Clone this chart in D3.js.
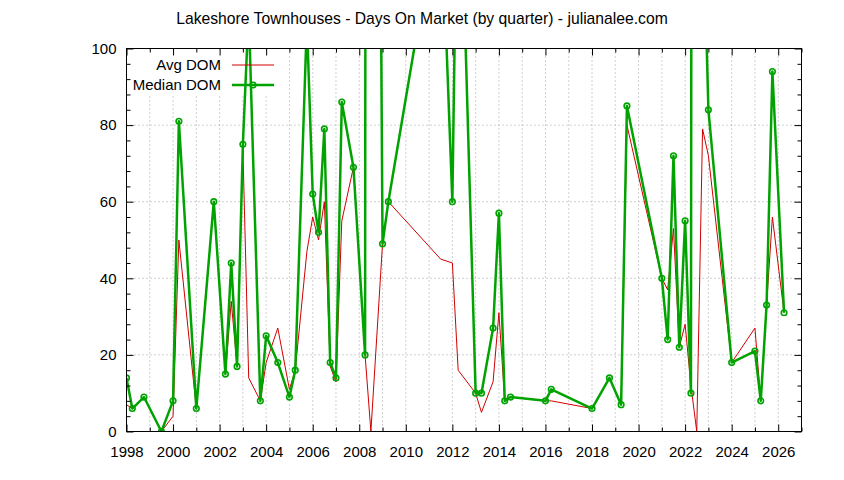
<!DOCTYPE html>
<html lang="en">
<head>
  <meta charset="UTF-8" />
  <title>Lakeshore Townhouses - Days On Market</title>
  <script src="https://d3js.org/d3.v7.min.js"></script>
  <style>
    body {
      margin: 0;
      background: #fff;
    }
    svg text {
      font-family: "Liberation Sans", Arial, sans-serif;
      font-size: 15px;
      fill: #000;
    }
    .grid line {
      stroke: #a0a0a0;
      stroke-width: 1;
      stroke-dasharray: 1, 3;
    }
  </style>
</head>
<body>
  <svg id="chart" width="844" height="480"></svg>

  <script>
    // quarter (decimal year) and days on market, null = no point in that series
    const quarters = [
      1998.0, 1998.25, 1998.75, 1999.5, 2000.0, 2000.25, 2001.0, 2001.75,
      2002.25, 2002.5, 2002.75, 2003.0, 2003.25, 2003.75, 2004.0, 2004.5,
      2005.0, 2005.25, 2005.75, 2006.0, 2006.25, 2006.5, 2006.75, 2007.0,
      2007.25, 2007.75, 2008.25, 2008.5, 2008.75, 2009.0, 2009.25, 2011.5,
      2012.0, 2012.25, 2013.0, 2013.25, 2013.75, 2014.0, 2014.25, 2014.5,
      2016.0, 2016.25, 2018.0, 2018.75, 2019.25, 2019.5, 2021.0, 2021.25,
      2021.5, 2021.75, 2022.0, 2022.25, 2022.5, 2022.75, 2023.0, 2024.0,
      2025.0, 2025.25, 2025.5, 2025.75, 2026.25
    ];
    const avgDom = [
      7, 6, 9, 0, 4, 50, 6, 60,
      15, 34, 17, 74, 14, 8, 18, 27,
      11, 16, 47, 56, 50, 60, 17, 13,
      55, 69, 20, 0, null, 49, 60, 45,
      44, 16, 10, 5, 13, 31, 8, 9,
      8, 8, 6, 14, 7, 80, 40, 37,
      53, 22, 28, 12, 0, 79, 72, 18,
      27, 8, 33, 56, 31
    ];
    const medianDom = [
      14, 6, 9, 0, 8, 81, 6, 60,
      15, 44, 17, 75, 110, 8, 25, 18,
      9, 16, 107, 62, 52, 79, 18, 14,
      86, 69, 20, 1800, 280, 49, 60, 141,
      60, 168, 10, 10, 27, 57, 8, 9,
      8, 11, 6, 14, 7, 85, 40, 24,
      72, 22, 55, 10, 1500, 141, 84, 18,
      21, 8, 33, 94, 31
    ];
    const xTickLabels = [1998, 2000, 2002, 2004, 2006, 2008, 2010, 2012, 2014, 2016, 2018, 2020, 2022, 2024, 2026];
    const yTickLabels = [0, 20, 40, 60, 80, 100];
    const titleText = "Lakeshore Townhouses - Days On Market (by quarter) - julianalee.com";

    const plotLeft = 126.5, plotRight = 801.5, plotTop = 48.5, plotBottom = 431.5;
    const red = "#d00000", green = "#00a300";

    const svg = d3.select("#chart");
    const x = d3.scaleLinear().domain([1998, 2027]).range([plotLeft, plotRight]);
    const y = d3.scaleLinear().domain([0, 100]).range([plotBottom, plotTop]);

    const avgData = quarters.map((q, i) => ({ q, v: avgDom[i] })).filter(d => d.v != null);
    const medData = quarters.map((q, i) => ({ q, v: medianDom[i] })).filter(d => d.v != null);

    const everyYear = d3.range(1998, 2028);
    const minorYears = everyYear.filter(v => v % 2 === 1);
    const minorY = d3.range(0, 101, 4).filter(v => v % 20 !== 0);

    svg.append("defs").append("clipPath").attr("id", "plot")
      .append("rect")
      .attr("x", plotLeft).attr("y", plotTop)
      .attr("width", plotRight - plotLeft).attr("height", plotBottom - plotTop);

    // dotted grid, every year and every 20 days
    const grid = svg.append("g").attr("class", "grid");
    grid.selectAll(".gx")
      .data(everyYear.filter(v => v > 1998 && v < 2027))
      .join("line")
      .attr("class", "gx")
      .attr("x1", d => x(d)).attr("x2", d => x(d))
      .attr("y1", plotTop).attr("y2", plotBottom);
    grid.selectAll(".gy")
      .data(yTickLabels.filter(v => v > 0 && v < 100))
      .join("line")
      .attr("class", "gy")
      .attr("x1", plotLeft).attr("x2", plotRight)
      .attr("y1", d => y(d)).attr("y2", d => y(d));

    // opaque key box hides the grid behind it
    svg.append("rect")
      .attr("x", plotLeft + 1).attr("y", plotTop + 1)
      .attr("width", 155).attr("height", 46)
      .attr("fill", "#fff");

    const plot = svg.append("g").attr("clip-path", "url(#plot)");
    const line = d3.line().x(d => x(d.q)).y(d => y(d.v));

    plot.append("path")
      .datum(avgData)
      .attr("d", line)
      .attr("fill", "none")
      .attr("stroke", red)
      .attr("stroke-width", 1);

    plot.append("path")
      .datum(medData)
      .attr("d", line)
      .attr("fill", "none")
      .attr("stroke", green)
      .attr("stroke-width", 2.5)
      .attr("stroke-linejoin", "round");

    plot.selectAll("circle")
      .data(medData)
      .join("circle")
      .attr("cx", d => x(d.q))
      .attr("cy", d => y(d.v))
      .attr("r", 2.8)
      .attr("fill", "none")
      .attr("stroke", green)
      .attr("stroke-width", 1.6);

    // axes, ticks pointing inwards like gnuplot
    function clean(g) {
      g.select(".domain").remove();
      g.selectAll(".tick line").attr("stroke", "#000");
    }

    svg.append("g")
      .attr("transform", `translate(0,${plotBottom})`)
      .call(d3.axisBottom(x).tickValues(xTickLabels).tickFormat(d3.format("d")).tickSize(-7).tickPadding(15))
      .call(clean);
    svg.append("g")
      .attr("transform", `translate(0,${plotBottom})`)
      .call(d3.axisBottom(x).tickValues(minorYears).tickFormat("").tickSize(-4))
      .call(clean);
    svg.append("g")
      .attr("transform", `translate(0,${plotTop})`)
      .call(d3.axisTop(x).tickValues(xTickLabels).tickFormat("").tickSize(-7))
      .call(clean);
    svg.append("g")
      .attr("transform", `translate(0,${plotTop})`)
      .call(d3.axisTop(x).tickValues(minorYears).tickFormat("").tickSize(-4))
      .call(clean);

    svg.append("g")
      .attr("transform", `translate(${plotLeft},0)`)
      .call(d3.axisLeft(y).tickValues(yTickLabels).tickSize(-7).tickPadding(10))
      .call(clean);
    svg.append("g")
      .attr("transform", `translate(${plotLeft},0)`)
      .call(d3.axisLeft(y).tickValues(minorY).tickFormat("").tickSize(-4))
      .call(clean);
    svg.append("g")
      .attr("transform", `translate(${plotRight},0)`)
      .call(d3.axisRight(y).tickValues(yTickLabels).tickFormat("").tickSize(-7))
      .call(clean);
    svg.append("g")
      .attr("transform", `translate(${plotRight},0)`)
      .call(d3.axisRight(y).tickValues(minorY).tickFormat("").tickSize(-4))
      .call(clean);

    svg.selectAll(".tick text").style("font-family", "'Liberation Sans', Arial, sans-serif").style("font-size", "15px");

    svg.append("rect")
      .attr("x", plotLeft).attr("y", plotTop)
      .attr("width", plotRight - plotLeft).attr("height", plotBottom - plotTop)
      .attr("fill", "none")
      .attr("stroke", "#000")
      .attr("stroke-width", 1);

    // key
    const key = svg.append("g");
    const keyRows = [
      { label: "Avg DOM", color: red, width: 1, point: false, yPos: 65 },
      { label: "Median DOM", color: green, width: 2.5, point: true, yPos: 85 }
    ];
    keyRows.forEach(r => {
      key.append("text")
        .attr("x", 221)
        .attr("y", r.yPos)
        .attr("dy", "0.35em")
        .attr("text-anchor", "end")
        .text(r.label);
      key.append("line")
        .attr("x1", 232).attr("x2", 274)
        .attr("y1", r.yPos).attr("y2", r.yPos)
        .attr("stroke", r.color)
        .attr("stroke-width", r.width);
      if (r.point) {
        key.append("circle")
          .attr("cx", 253).attr("cy", r.yPos)
          .attr("r", 2.8)
          .attr("fill", "none")
          .attr("stroke", r.color)
          .attr("stroke-width", 1.6);
      }
    });

    svg.append("text")
      .attr("x", 422)
      .attr("y", 24)
      .attr("text-anchor", "middle")
      .style("font-size", "15.7px")
      .text(titleText);
  </script>
</body>
</html>
